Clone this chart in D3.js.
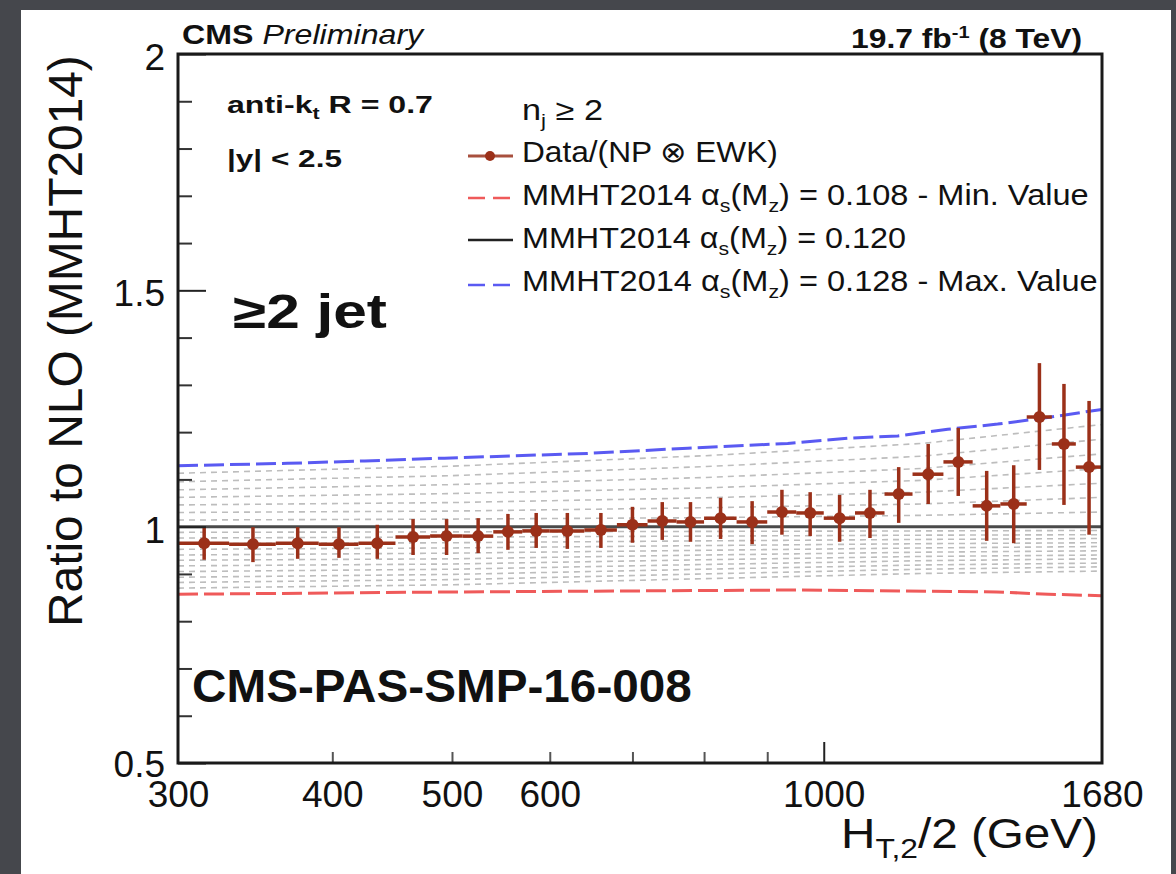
<!DOCTYPE html>
<html><head><meta charset="utf-8">
<script src="https://cdn.jsdelivr.net/npm/d3@7"></script>
<style>
html,body{margin:0;padding:0;background:#45474c;}
svg{display:block}
text{font-family:"Liberation Sans", Arial, Helvetica, sans-serif;fill:#111;}
</style></head><body>
<svg id="c" width="1176" height="874"></svg>
<script>
// ---------- data ----------
const binLo = [300,330,360,390,420,450,480,510,540,570,600,640,680,720,760,800,850,900,950,1000,1060,1120,1180,1250,1320,1390,1460,1530,1600];
const binHi = [330,360,390,420,450,480,510,540,570,600,640,680,720,760,800,850,900,950,1000,1060,1120,1180,1250,1320,1390,1460,1530,1600,1680];
const ratio = [0.965,0.963,0.965,0.963,0.965,0.978,0.980,0.980,0.989,0.991,0.991,0.993,1.004,1.012,1.010,1.018,1.010,1.031,1.029,1.018,1.029,1.069,1.111,1.137,1.044,1.048,1.232,1.175,1.126];
const ratioUp = [0.999,0.999,0.999,0.999,1.004,1.016,1.016,1.018,1.027,1.029,1.029,1.029,1.042,1.052,1.052,1.061,1.054,1.078,1.073,1.067,1.078,1.126,1.175,1.209,1.118,1.130,1.346,1.302,1.266];
const ratioDn = [0.930,0.925,0.932,0.934,0.932,0.940,0.940,0.944,0.951,0.955,0.953,0.955,0.966,0.972,0.968,0.974,0.963,0.983,0.980,0.968,0.976,1.008,1.048,1.065,0.970,0.965,1.120,1.046,0.983];

const maxHT = [300,368,425,493,644,776,935,1046,1148,1260,1383,1518,1680];
const maxRatio = [1.129,1.134,1.139,1.145,1.155,1.166,1.176,1.187,1.192,1.206,1.217,1.231,1.248];
const minHT = [300,510,950,1380,1520,1680];
const minRatio = [0.857,0.862,0.866,0.862,0.857,0.854];
const centralHT = [300,1680];
const centralRatio = [1,1];

const bandHT = [300,500,800,1200,1680];
const grayUpper = [
 [1.113,1.128,1.150,1.176,1.216],
 [1.095,1.108,1.127,1.149,1.185],
 [1.078,1.089,1.104,1.123,1.154],
 [1.062,1.070,1.082,1.098,1.123],
 [1.046,1.051,1.061,1.073,1.092],
 [1.030,1.033,1.040,1.048,1.062],
 [1.014,1.016,1.019,1.024,1.031]
];
const grayLower = [
 [0.988,0.989,0.990,0.991,0.992],
 [0.976,0.978,0.980,0.982,0.983],
 [0.964,0.966,0.970,0.973,0.975],
 [0.952,0.955,0.960,0.964,0.966],
 [0.940,0.944,0.950,0.955,0.958],
 [0.929,0.932,0.940,0.946,0.949],
 [0.917,0.921,0.930,0.937,0.940],
 [0.905,0.910,0.920,0.928,0.932],
 [0.893,0.899,0.910,0.919,0.923],
 [0.882,0.888,0.900,0.910,0.915],
 [0.870,0.877,0.890,0.901,0.906]
];

const xMinorTicks = [400,500,600,700,800,900];
const xMajorTicks = [1000];
const xTickLabels = [300,400,500,600,1000,1680];
const yMinorTicks = [0.6,0.7,0.8,0.9,1.1,1.2,1.3,1.4,1.6,1.7,1.8,1.9];
const yMajorTicks = [0.5,1,1.5,2];
const yTickLabels = [0.5,1,1.5,2];

// ---------- setup ----------
const svg = d3.select("#c");
svg.append("rect").attr("width",1176).attr("height",874).attr("fill","#45474c");
svg.append("rect").attr("x",21).attr("y",10).attr("width",1150).attr("height",864).attr("fill","#ffffff");

const x = d3.scaleLog().domain([300,1680]).range([178,1102]);
const y = d3.scaleLinear().domain([0.5,2]).range([763,54]);

svg.append("defs").append("clipPath").attr("id","clip")
  .append("rect").attr("x",178).attr("y",54).attr("width",924).attr("height",709);
const plot = svg.append("g").attr("clip-path","url(#clip)");

const line = d3.line().x(d=>x(d[0])).y(d=>y(d[1]));

// gray band curves
grayUpper.concat(grayLower).forEach(vals=>{
  plot.append("path").datum(bandHT.map((h,i)=>[h,vals[i]]))
    .attr("d",line).attr("fill","none").attr("stroke","#bdbdbd")
    .attr("stroke-width",1.6).attr("stroke-dasharray","6,5");
});
// min / max / central
plot.append("path").datum(minHT.map((h,i)=>[h,minRatio[i]])).attr("d",line)
  .attr("fill","none").attr("stroke","#ef5a5a").attr("stroke-width",3).attr("stroke-dasharray","20,6");
plot.append("path").datum(maxHT.map((h,i)=>[h,maxRatio[i]])).attr("d",line)
  .attr("fill","none").attr("stroke","#5a5af2").attr("stroke-width",3).attr("stroke-dasharray","20,6");
plot.append("path").datum(centralHT.map((h,i)=>[h,centralRatio[i]])).attr("d",line)
  .attr("fill","none").attr("stroke","#4a4a4a").attr("stroke-width",3);

// data
const dcol = "#9b3019";
const pts = ratio.map((v,i)=>({lo:binLo[i],hi:binHi[i],c:(binLo[i]+binHi[i])/2,v:v,up:ratioUp[i],dn:ratioDn[i]}));
const dg = plot.append("g");
dg.selectAll("line.h").data(pts).enter().append("line")
  .attr("x1",d=>x(d.lo)).attr("x2",d=>x(d.hi)).attr("y1",d=>y(d.v)).attr("y2",d=>y(d.v))
  .attr("stroke",dcol).attr("stroke-width",3.5);
dg.selectAll("line.v").data(pts).enter().append("line")
  .attr("x1",d=>x(d.c)).attr("x2",d=>x(d.c)).attr("y1",d=>y(d.up)).attr("y2",d=>y(d.dn))
  .attr("stroke",dcol).attr("stroke-width",3.5);
dg.selectAll("circle").data(pts).enter().append("circle")
  .attr("cx",d=>x(d.c)).attr("cy",d=>y(d.v)).attr("r",6).attr("fill",dcol);

// ---------- axes ----------
function styleAxis(g, col){
  g.select(".domain").remove();
  g.selectAll("line").attr("stroke",col).attr("stroke-width",2);
  g.selectAll("text").remove();
}
svg.append("g").attr("transform","translate(0,763)")
  .call(d3.axisBottom(x).tickValues(xMinorTicks).tickSize(-11).tickFormat(""))
  .call(g=>styleAxis(g,"#555"));
svg.append("g").attr("transform","translate(0,763)")
  .call(d3.axisBottom(x).tickValues(xMajorTicks).tickSize(-21).tickFormat(""))
  .call(g=>styleAxis(g,"#222"));
svg.append("g").attr("transform","translate(178,0)")
  .call(d3.axisLeft(y).tickValues(yMinorTicks).tickSize(-14).tickFormat(""))
  .call(g=>styleAxis(g,"#333"));
svg.append("g").attr("transform","translate(178,0)")
  .call(d3.axisLeft(y).tickValues(yMajorTicks).tickSize(-28).tickFormat(""))
  .call(g=>styleAxis(g,"#222"));

// tick labels
const xl = svg.append("g").attr("transform","translate(0,763)")
  .call(d3.axisBottom(x).tickValues(xTickLabels).tickSize(0).tickPadding(0).tickFormat(d3.format("d")));
xl.select(".domain").remove();
xl.selectAll("text").attr("y",44).attr("dy",null).attr("font-size",37).attr("fill","#111")
  .attr("font-family","Liberation Sans, Arial, sans-serif");
const yl = svg.append("g").attr("transform","translate(165,0)")
  .call(d3.axisLeft(y).tickValues(yTickLabels).tickSize(0).tickPadding(0).tickFormat(d=>String(d)));
yl.select(".domain").remove();
yl.selectAll("text").attr("x",0).attr("dy",d=>d===0.5?"13px":"15.5px").attr("font-size",37).attr("fill","#111")
  .attr("font-family","Liberation Sans, Arial, sans-serif");

// frame
svg.append("rect").attr("x",178).attr("y",54).attr("width",924).attr("height",709)
  .attr("fill","none").attr("stroke","#1a1a1a").attr("stroke-width",3);

// ---------- text helper ----------
function addText(px, py, anchor, size, weight, parts, targetW, rotate){
  const g = svg.append("g");
  const t = g.append("text").attr("x",0).attr("y",0).attr("text-anchor",anchor)
    .attr("font-size",size).attr("font-weight",weight);
  let cur = 0;
  parts.forEach(p=>{
    const s = (typeof p === "string") ? {t:p} : p;
    const off = s.dy || 0;
    const ts = t.append("tspan").text(s.t).attr("dy", off - cur);
    cur = off;
    if (s.size) ts.attr("font-size", s.size);
    if (s.style) ts.attr("font-style", s.style);
    if (s.weight) ts.attr("font-weight", s.weight);
  });
  let sc = 1;
  if (targetW){ const w = t.node().getBBox().width; sc = targetW / w; }
  g.attr("transform", `translate(${px},${py})` + (rotate?` rotate(${rotate})`:"") + ` scale(${sc},1)`);
  return g;
}

// header
addText(182, 44, "start", 27, "bold", [{t:"CMS"},{t:" Preliminary",style:"italic",weight:"normal"}], 243);
addText(1082, 48, "end", 27, "bold", ["19.7 fb",{t:"-1",dy:-10,size:17}," (8 TeV)"], 231);

// inside labels
addText(227, 113, "start", 24, "bold", ["anti-k",{t:"t",dy:6,size:16}," R = 0.7"], 206);
addText(227, 167, "start", 24, "bold", ["|y| < 2.5"], 115);
addText(233, 328, "start", 48, "bold", ["≥2 jet"], 154);
addText(192, 702, "start", 47, "bold", ["CMS-PAS-SMP-16-008"], 500);

// legend
addText(522, 120, "start", 29, "normal", ["n",{t:"j",dy:7,size:19}," ≥ 2"], 81);
addText(522, 162, "start", 29, "normal", ["Data/(NP ⊗ EWK)"], 256);
addText(522, 205, "start", 29, "normal", ["MMHT2014 α",{t:"s",dy:7,size:19},"(M",{t:"z",dy:7,size:19},") = 0.108 - Min. Value"], 567);
addText(522, 248, "start", 29, "normal", ["MMHT2014 α",{t:"s",dy:7,size:19},"(M",{t:"z",dy:7,size:19},") = 0.120"], 384);
addText(522, 291, "start", 29, "normal", ["MMHT2014 α",{t:"s",dy:7,size:19},"(M",{t:"z",dy:7,size:19},") = 0.128 - Max. Value"], 576);

const lg = svg.append("g");
lg.append("line").attr("x1",468).attr("x2",513).attr("y1",156).attr("y2",156).attr("stroke","#a8503e").attr("stroke-width",3);
lg.append("circle").attr("cx",490).attr("cy",156).attr("r",5).attr("fill",dcol);
lg.append("line").attr("x1",468).attr("x2",513).attr("y1",198).attr("y2",198).attr("stroke","#ef5a5a").attr("stroke-width",2.5).attr("stroke-dasharray","17,8");
lg.append("line").attr("x1",468).attr("x2",513).attr("y1",240).attr("y2",240).attr("stroke","#222").attr("stroke-width",2.5);
lg.append("line").attr("x1",468).attr("x2",513).attr("y1",285).attr("y2",285).attr("stroke","#5a5af2").attr("stroke-width",2.5).attr("stroke-dasharray","17,8");

// axis titles
addText(82, 627, "start", 48, "normal", ["Ratio to NLO (MMHT2014)"], 572, -90);
addText(1098, 848, "end", 42, "normal", ["H",{t:"T,2",dy:10,size:28},"/2 (GeV)"], 257);
</script>
</body></html>
